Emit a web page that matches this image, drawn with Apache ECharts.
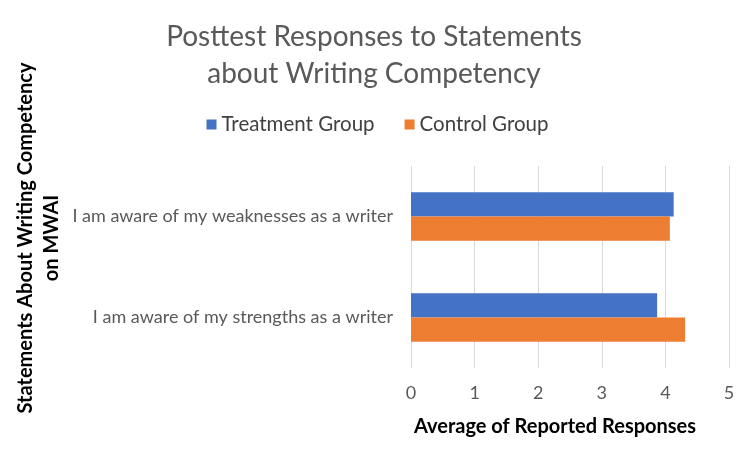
<!DOCTYPE html>
<html>
<head>
<meta charset="utf-8">
<script src="https://cdn.jsdelivr.net/npm/echarts@6/dist/echarts.min.js"></script>
<style>
  html, body { margin: 0; padding: 0; background: #fff; }
  #main { width: 755px; height: 454px; }
</style>
</head>
<body>
<div id="main"></div>
<script>
// bottom to top, as the category axis draws them
const categories = ['I am aware of my strengths as a writer', 'I am aware of my weaknesses as a writer'];
const treatment = [3.87, 4.13];
const control = [4.31, 4.07];
const xTicks = [0, 1, 2, 3, 4, 5];

const font = 'Lato';
const chart = echarts.init(document.getElementById('main'));

const option = {
  animation: false,
  color: ['#4472C4', '#ED7D31'],
  title: {
    text: 'Posttest Responses to Statements\nabout Writing Competency',
    left: 369,
    top: 13,
    textAlign: 'center',
    textStyle: { fontFamily: font, fontSize: 28, fontWeight: 'normal', color: '#595959', lineHeight: 37 }
  },
  legend: {
    data: ['Treatment Group', 'Control Group'],
    top: 109,
    left: 'center',
    icon: 'rect',
    itemWidth: 10,
    itemHeight: 10,
    itemGap: 30,
    textStyle: { fontFamily: font, fontSize: 20.5, color: '#404040' }
  },
  grid: { left: 411, right: 26, top: 166, bottom: 86, containLabel: false, outerBoundsMode: 'none' },
  xAxis: {
    type: 'value',
    min: xTicks[0],
    max: xTicks[xTicks.length - 1],
    interval: 1,
    name: 'Average of Reported Responses',
    nameLocation: 'middle',
    nameGap: 49,
    nameTextStyle: { fontFamily: font, fontSize: 20, fontWeight: 'bold', color: '#000', padding: [0, 30, 0, 0] },
    axisLine: { show: false },
    axisTick: { show: false },
    axisLabel: { fontFamily: font, fontSize: 18, color: '#595959', margin: 16 },
    splitLine: { lineStyle: { color: '#d9d9d9', width: 1 } }
  },
  yAxis: {
    type: 'category',
    data: categories,
    name: 'Statements About Writing Competency\non MWAI',
    nameLocation: 'middle',
    nameRotate: 90,
    nameGap: 346,
    nameTextStyle: { fontFamily: font, fontSize: 20, fontWeight: 'bold', color: '#000', lineHeight: 26, padding: [0, 0, 0, 58] },
    axisLine: { show: false },
    axisTick: { show: false },
    axisLabel: { fontFamily: font, fontSize: 18, color: '#595959', margin: 18 }
  },
  series: [
    {
      name: 'Treatment Group',
      type: 'bar',
      data: treatment,
      barGap: '0%',
      barCategoryGap: '52%'
    },
    {
      name: 'Control Group',
      type: 'bar',
      data: control,
      barGap: '0%',
      barCategoryGap: '52%'
    }
  ]
};

chart.setOption(option);
</script>
</body>
</html>
